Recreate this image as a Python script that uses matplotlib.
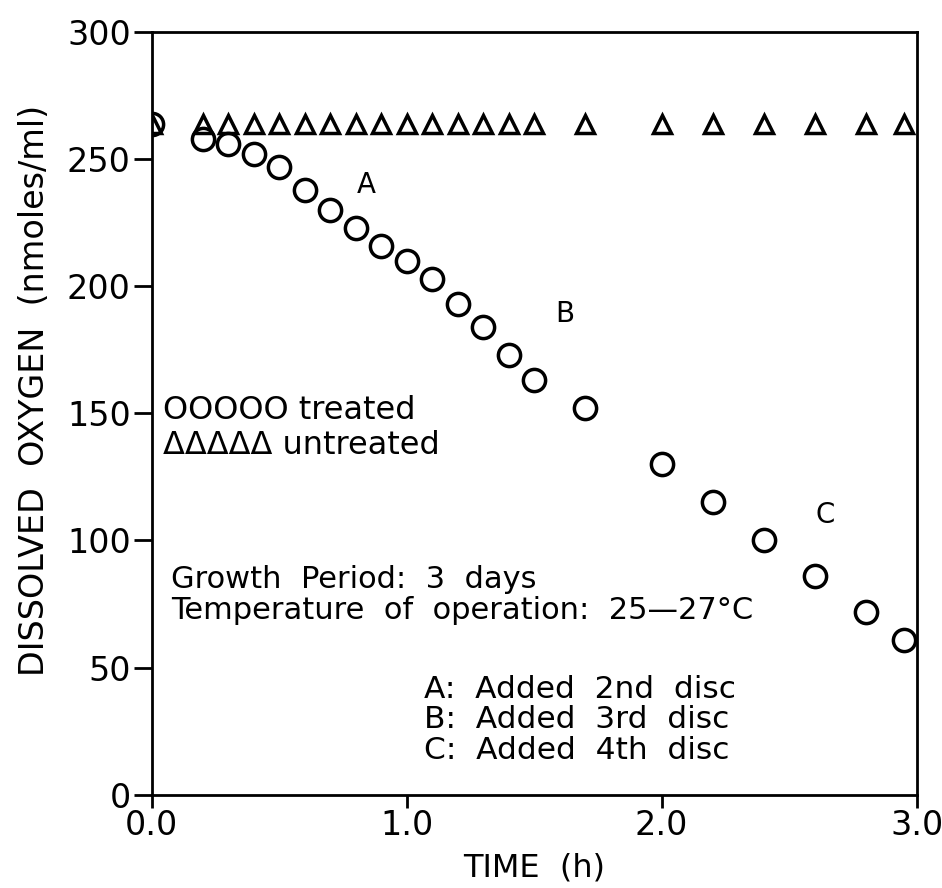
import matplotlib
matplotlib.use("Agg")
import matplotlib.pyplot as plt

time_treated = [0.0, 0.2, 0.3, 0.4, 0.5, 0.6, 0.7, 0.8, 0.9, 1.0, 1.1, 1.2, 1.3, 1.4, 1.5,
                1.7, 2.0, 2.2, 2.4, 2.6, 2.8, 2.95]
oxygen_treated = [264, 258, 256, 252, 247, 238, 230, 223, 216, 210, 203, 193, 184, 173, 163,
                  152, 130, 115, 100, 86, 72, 61]
time_untreated = [0.0, 0.2, 0.3, 0.4, 0.5, 0.6, 0.7, 0.8, 0.9, 1.0, 1.1, 1.2, 1.3, 1.4, 1.5,
                  1.7, 2.0, 2.2, 2.4, 2.6, 2.8, 2.95]
oxygen_untreated = [264] * len(time_untreated)

x_ticks = [0.0, 1.0, 2.0, 3.0]
x_tick_labels = ["0.0", "1.0", "2.0", "3.0"]
y_ticks = [0, 50, 100, 150, 200, 250, 300]

plt.rcParams['font.family'] = ['DejaVu Sans']

fig = plt.figure(figsize=(9.42, 8.88), dpi=100)
ax = fig.add_axes([0.161, 0.105, 0.812, 0.859])

ax.plot(time_treated, oxygen_treated, linestyle='none', marker='o', markersize=16,
        markerfacecolor='none', markeredgecolor='black', markeredgewidth=2.5)
ax.plot(time_untreated, oxygen_untreated, linestyle='none', marker='^', markersize=13,
        markerfacecolor='none', markeredgecolor='black', markeredgewidth=2.5)

ax.set_xlim(0, 3)
ax.set_ylim(0, 300)
ax.set_xticks(x_ticks)
ax.set_xticklabels(x_tick_labels)
ax.set_yticks(y_ticks)
ax.tick_params(axis='y', direction='out', length=13, width=2, labelsize=24, pad=2)
ax.tick_params(axis='x', direction='out', length=9, width=2, labelsize=24, pad=1)
for s in ax.spines.values():
    s.set_linewidth(2)

ax.set_xlabel("TIME  (h)", fontsize=23, labelpad=8)
ax.set_ylabel("DISSOLVED  OXYGEN  (nmoles/ml)", fontsize=24)
ax.yaxis.set_label_coords(-0.132, 0.53)

ax.text(0.84, 240, "A", fontsize=20, ha='center', va='center')
ax.text(1.62, 189, "B", fontsize=20, ha='center', va='center')
ax.text(2.64, 110, "C", fontsize=20, ha='center', va='center')

ax.text(0.045, 151, "OOOOO treated", fontsize=23, ha='left', va='center')
ax.text(0.045, 137.5, "\u0394\u0394\u0394\u0394\u0394 untreated", fontsize=23, ha='left', va='center')

ax.text(0.075, 84.5, "Growth  Period:  3  days", fontsize=22, ha='left', va='center')
ax.text(0.075, 72.5, "Temperature  of  operation:  25\u201427\u00b0C", fontsize=22, ha='left', va='center')

ax.text(1.07, 41.5, "A:  Added  2nd  disc", fontsize=22.5, ha='left', va='center')
ax.text(1.07, 29.5, "B:  Added  3rd  disc", fontsize=22.5, ha='left', va='center')
ax.text(1.07, 17.5, "C:  Added  4th  disc", fontsize=22.5, ha='left', va='center')

fig.savefig("out.png", dpi=100)
